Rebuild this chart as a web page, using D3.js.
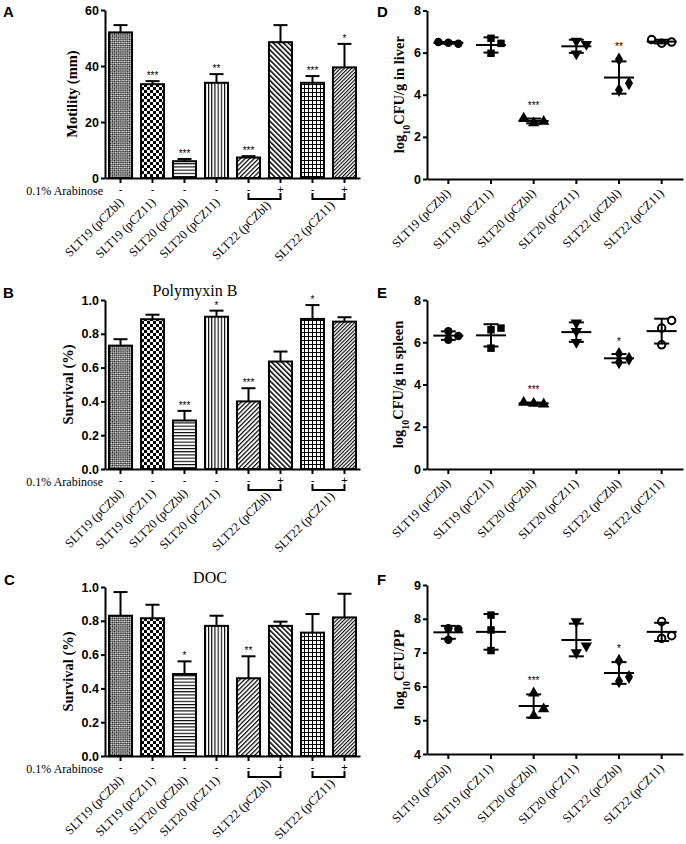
<!DOCTYPE html>
<html>
<head>
<meta charset="utf-8">
<script src="https://cdn.jsdelivr.net/npm/d3@7"></script>
<style>
  body { margin: 0; background: #fff; }
  svg { display: block; }
</style>
</head>
<body>
<svg id="fig" width="686" height="844"></svg>
<script>
// ---- data ----
const strains = ["SLT19 (pCZbl)", "SLT19 (pCZ11)", "SLT20 (pCZbl)", "SLT20 (pCZ11)", "SLT22 (pCZbl)", "SLT22 (pCZ11)"];

// bar panels: 8 bars, the two SLT22 strains are shown without / with arabinose
const barStrain = [0, 1, 2, 3, 4, 4, 5, 5];
const arabinose = ["-", "-", "-", "-", "-", "+", "-", "+"];

const motility = [52, 33.5, 6, 34, 7.3, 48.5, 34, 39.5];
const motilitySD = [2.6, 1.1, 0.8, 3.1, 0.5, 6.1, 2.4, 8.4];
const motilityStars = ["", "***", "***", "**", "***", "", "***", "*"];
const motilityTicks = [0, 20, 40, 60];

const polymyxin = [0.73, 0.886, 0.287, 0.901, 0.40, 0.636, 0.888, 0.872];
const polymyxinSD = [0.038, 0.027, 0.057, 0.036, 0.078, 0.059, 0.082, 0.026];
const polymyxinStars = ["", "", "***", "*", "***", "", "*", ""];

const doc = [0.83, 0.815, 0.485, 0.77, 0.46, 0.77, 0.73, 0.82];
const docSD = [0.14, 0.08, 0.075, 0.06, 0.13, 0.025, 0.11, 0.14];
const docStars = ["", "", "*", "", "**", "", "", ""];

const survivalTicks = [0, 0.2, 0.4, 0.6, 0.8, 1.0];

// dot panels: three mice per strain, log10 CFU
const liver = [[6.47, 6.42, 6.5], [6.68, 6.44, 5.97], [2.66, 2.73, 2.88], [6.55, 6.4, 5.95], [5.68, 4.22, 4.55], [6.45, 6.5, 6.62]];
const liverStars = ["", "", "***", "", "**", ""];
const spleen = [[6.52, 6.12, 6.3], [6.59, 5.72, 6.67], [3.1, 3.07, 3.15], [6.92, 6.52, 6.0], [5.45, 5.05, 5.22], [6.67, 5.88, 7.03]];
const spleenStars = ["", "", "***", "", "*", ""];
const pp = [[7.72, 7.38, 7.7], [8.11, 7.67, 7.06], [5.8, 5.13, 5.33], [7.92, 7.0, 7.2], [6.76, 6.15, 6.28], [7.92, 7.42, 7.5]];
const ppStars = ["", "", "***", "", "*", ""];
const organTicks = [0, 2, 4, 6, 8];
const ppTicks = [4, 5, 6, 7, 8, 9];

// ---- drawing ----
const SERIF = "'Liberation Serif', 'Times New Roman', serif";
const SANS = "'Liberation Sans', Arial, sans-serif";
const svg = d3.select("#fig");
const defs = svg.append("defs");

// fill patterns for the 8 bars
function pattern(id, w, h, rot, draw) {
  const p = defs.append("pattern")
    .attr("id", id)
    .attr("patternUnits", "userSpaceOnUse")
    .attr("width", w).attr("height", h);
  if (rot) p.attr("patternTransform", "rotate(" + rot + ")");
  p.append("rect").attr("width", w).attr("height", h).attr("fill", "#fff");
  draw(p);
}
pattern("pat0", 3, 3, 45, p => {
  p.append("rect").attr("width", 1.5).attr("height", 1.5).attr("fill", "#000");
  p.append("rect").attr("x", 1.5).attr("y", 1.5).attr("width", 1.5).attr("height", 1.5).attr("fill", "#000");
});
pattern("pat1", 6, 6, 0, p => {
  p.append("rect").attr("width", 3).attr("height", 3).attr("fill", "#000");
  p.append("rect").attr("x", 3).attr("y", 3).attr("width", 3).attr("height", 3).attr("fill", "#000");
});
pattern("pat2", 4, 3.2, 0, p => {
  p.append("rect").attr("width", 4).attr("height", 1.1).attr("fill", "#000");
});
pattern("pat3", 3.2, 4, 0, p => {
  p.append("rect").attr("width", 1.1).attr("height", 4).attr("fill", "#000");
});
pattern("pat4", 3.2, 10, 45, p => {
  p.append("rect").attr("width", 1.2).attr("height", 10).attr("fill", "#000");
});
pattern("pat5", 3.6, 10, -45, p => {
  p.append("rect").attr("width", 1.5).attr("height", 10).attr("fill", "#000");
});
pattern("pat6", 4, 4, 0, p => {
  p.append("rect").attr("width", 1).attr("height", 4).attr("fill", "#000");
  p.append("rect").attr("width", 4).attr("height", 1).attr("fill", "#000");
});
pattern("pat7", 2.6, 10, 45, p => {
  p.append("rect").attr("width", 1.1).attr("height", 10).attr("fill", "#000");
});

function panelLetter(txt, x, y) {
  svg.append("text").attr("x", x).attr("y", y)
    .attr("font-family", SANS).attr("font-weight", "bold").attr("font-size", 15)
    .text(txt);
}

function yAxis(g, y, ticks, fmt) {
  const ax = g.append("g")
    .call(d3.axisLeft(y).tickValues(ticks).tickFormat(fmt).tickSize(4).tickSizeOuter(0).tickPadding(2));
  ax.select(".domain").attr("stroke-width", 2);
  ax.selectAll(".tick line").attr("stroke-width", 2);
  ax.selectAll(".tick text").attr("font-family", SANS).attr("font-weight", "bold").attr("font-size", 12.5).attr("fill", "#000");
  return ax;
}

function yTitle(parts, x, y) {
  const t = svg.append("text")
    .attr("transform", "translate(" + x + "," + y + ") rotate(-90)")
    .attr("text-anchor", "middle")
    .attr("font-family", SERIF).attr("font-weight", "bold").attr("font-size", 14.5);
  parts.forEach(p => {
    const s = t.append("tspan").text(p.t);
    if (p.sub) s.attr("font-size", 10).attr("baseline-shift", "sub");
  });
}

function barPanel(o) {
  const g = svg.append("g");
  const x = d3.scaleBand().domain(d3.range(o.values.length)).range([o.x0, o.x1])
    .paddingInner(0.28).paddingOuter(0.125);
  const y = d3.scaleLinear().domain([o.ticks[0], o.ticks[o.ticks.length - 1]]).range([o.yBot, o.yTop]);
  const cx = i => x(i) + x.bandwidth() / 2;

  g.selectAll("rect.bar").data(o.values).enter().append("rect")
    .attr("class", "bar")
    .attr("x", (d, i) => x(i)).attr("width", x.bandwidth())
    .attr("y", d => y(d)).attr("height", d => o.yBot - y(d))
    .attr("fill", (d, i) => "url(#pat" + i + ")")
    .attr("stroke", "#000").attr("stroke-width", 2);

  // upward error bars
  o.values.forEach((d, i) => {
    const top = y(d + o.sd[i]);
    g.append("line").attr("x1", cx(i)).attr("x2", cx(i)).attr("y1", y(d)).attr("y2", top)
      .attr("stroke", "#000").attr("stroke-width", 2);
    g.append("line").attr("x1", cx(i) - 7).attr("x2", cx(i) + 7).attr("y1", top).attr("y2", top)
      .attr("stroke", "#000").attr("stroke-width", 2);
    if (o.stars[i]) {
      g.append("text").attr("x", cx(i)).attr("y", top - 2)
        .attr("text-anchor", "middle").attr("font-family", SANS).attr("font-size", 10)
        .attr("fill", "#000")
        .text(o.stars[i]);
    }
  });

  yAxis(g, y, o.ticks, o.fmt).attr("transform", "translate(" + o.x0 + ",0)");

  const xa = g.append("g").attr("transform", "translate(0," + o.yBot + ")")
    .call(d3.axisBottom(x).tickFormat("").tickSize(5).tickSizeOuter(0));
  xa.select(".domain").attr("stroke-width", 2);
  xa.selectAll(".tick line").attr("stroke-width", 2);

  // arabinose row
  g.append("text").attr("x", o.x0 - 2).attr("y", o.yBot + 17)
    .attr("text-anchor", "end").attr("font-family", SERIF).attr("font-size", 12)
    .text("0.1% Arabinose");
  arabinose.forEach((s, i) => {
    g.append("text").attr("x", cx(i)).attr("y", o.yBot + 15)
      .attr("text-anchor", "middle").attr("font-family", SANS).attr("font-size", 11)
      .text(s);
  });

  // strain labels; paired strains get a bracket
  strains.forEach((name, si) => {
    const idx = d3.range(barStrain.length).filter(i => barStrain[i] === si);
    const c = d3.mean(idx, cx);
    let ly = o.yBot + 25, lx = c + 4;
    if (idx.length > 1) {
      const a = cx(idx[0]), b = cx(idx[idx.length - 1]);
      g.append("path")
        .attr("d", "M" + a + "," + (o.yBot + 15) + "V" + (o.yBot + 21) + "H" + b + "V" + (o.yBot + 15))
        .attr("fill", "none").attr("stroke", "#000").attr("stroke-width", 2);
      ly = o.yBot + 28; lx = c + 7;
    }
    g.append("text")
      .attr("transform", "translate(" + lx + "," + ly + ") rotate(-45)")
      .attr("text-anchor", "end").attr("font-family", SERIF).attr("font-size", 12.5)
      .text(name);
  });

  if (o.title) {
    g.append("text").attr("x", o.titleX).attr("y", o.yTop - 4)
      .attr("text-anchor", "middle").attr("font-family", SERIF).attr("font-size", 16)
      .text(o.title);
  }
  yTitle([{ t: o.ylabel }], o.labelX, (o.yTop + o.yBot) / 2);
}

// spread points that would overlap, like a scatter dot plot
function swarm(vals, y, minGap, step) {
  const placed = [];
  return vals.map(v => {
    const py = y(v);
    const slots = [0, step, -step, 2 * step, -2 * step];
    const dx = slots.find(s => !placed.some(p => p.dx === s && Math.abs(p.py - py) < minGap));
    placed.push({ dx, py });
    return { v, py, dx };
  });
}

const markers = [
  { type: d3.symbolCircle, open: false },
  { type: d3.symbolSquare, open: false },
  { type: d3.symbolTriangle, open: false },
  { type: d3.symbolTriangle, open: false, flip: true },
  { type: d3.symbolDiamond, open: false },
  { type: d3.symbolCircle, open: true }
];

function dotPanel(o) {
  const g = svg.append("g");
  const x = d3.scaleBand().domain(d3.range(strains.length)).range([o.x0, o.x1]);
  const y = d3.scaleLinear().domain([o.ticks[0], o.ticks[o.ticks.length - 1]]).range([o.yBot, o.yTop]);
  const cx = i => x(i) + x.bandwidth() / 2;

  yAxis(g, y, o.ticks, d3.format("d")).attr("transform", "translate(" + o.x0 + ",0)");
  const xa = g.append("g").attr("transform", "translate(0," + o.yBot + ")")
    .call(d3.axisBottom(x).tickFormat("").tickSize(5).tickSizeOuter(0));
  xa.select(".domain").attr("stroke-width", 2);
  xa.selectAll(".tick line").attr("stroke-width", 2);

  o.values.forEach((vals, i) => {
    const m = d3.mean(vals), sd = d3.deviation(vals);
    const c = cx(i);
    const pts = swarm(vals, y, 8, 10);
    const mk = markers[i];
    const sym = d3.symbol().type(mk.type).size(mk.open ? 44 : 56);
    pts.forEach(p => {
      g.append("path").attr("d", sym())
        .attr("transform", "translate(" + (c + p.dx) + "," + p.py + ")" + (mk.flip ? " rotate(180)" : ""))
        .attr("fill", mk.open ? "#fff" : "#000")
        .attr("stroke", "#000").attr("stroke-width", mk.open ? 2 : 0);
    });
    g.append("line").attr("x1", c - 15).attr("x2", c + 15).attr("y1", y(m)).attr("y2", y(m))
      .attr("stroke", "#000").attr("stroke-width", 2);
    g.append("line").attr("x1", c).attr("x2", c).attr("y1", y(m - sd)).attr("y2", y(m + sd))
      .attr("stroke", "#000").attr("stroke-width", 2);
    [m - sd, m + sd].forEach(v => {
      g.append("line").attr("x1", c - 7.5).attr("x2", c + 7.5).attr("y1", y(v)).attr("y2", y(v))
        .attr("stroke", "#000").attr("stroke-width", 2);
    });
    if (o.stars[i]) {
      const top = Math.min(y(m + sd), y(d3.max(vals)) - 4);
      g.append("text").attr("x", c).attr("y", top - 5)
        .attr("text-anchor", "middle").attr("font-family", SANS).attr("font-size", 10)
        .attr("fill", "#000")
        .text(o.stars[i]);
    }
    g.append("text")
      .attr("transform", "translate(" + (c + 3) + "," + (o.yBot + 15) + ") rotate(-45)")
      .attr("text-anchor", "end").attr("font-family", SERIF).attr("font-size", 12.5)
      .text(strains[i]);
  });

  yTitle(o.ylabel, o.labelX, (o.yTop + o.yBot) / 2);
}

const survFmt = d3.format(".1f");

barPanel({ values: motility, sd: motilitySD, stars: motilityStars, ticks: motilityTicks, fmt: d3.format("d"),
  x0: 105, x1: 360, yTop: 10, yBot: 178, ylabel: "Motility (mm)", labelX: 77 });
barPanel({ values: polymyxin, sd: polymyxinSD, stars: polymyxinStars, ticks: survivalTicks, fmt: survFmt,
  x0: 105, x1: 360, yTop: 300, yBot: 469, ylabel: "Survival (%)", labelX: 73, title: "Polymyxin B", titleX: 195 });
barPanel({ values: doc, sd: docSD, stars: docStars, ticks: survivalTicks, fmt: survFmt,
  x0: 105, x1: 360, yTop: 587, yBot: 756, ylabel: "Survival (%)", labelX: 73, title: "DOC", titleX: 210 });

dotPanel({ values: liver, stars: liverStars, ticks: organTicks, x0: 427, x1: 683, yTop: 10.5, yBot: 179,
  ylabel: [{ t: "log" }, { t: "10", sub: true }, { t: "CFU/g in liver" }], labelX: 404 });
dotPanel({ values: spleen, stars: spleenStars, ticks: organTicks, x0: 427, x1: 683, yTop: 300, yBot: 469,
  ylabel: [{ t: "log" }, { t: "10", sub: true }, { t: "CFU/g in spleen" }], labelX: 403 });
dotPanel({ values: pp, stars: ppStars, ticks: ppTicks, x0: 427, x1: 683, yTop: 585, yBot: 754,
  ylabel: [{ t: "log" }, { t: "10", sub: true }, { t: "CFU/PP" }], labelX: 404 });

panelLetter("A", 3, 17);
panelLetter("B", 3, 298);
panelLetter("C", 4, 585);
panelLetter("D", 377, 17);
panelLetter("E", 377, 298);
panelLetter("F", 377, 585);
</script>
</body>
</html>
